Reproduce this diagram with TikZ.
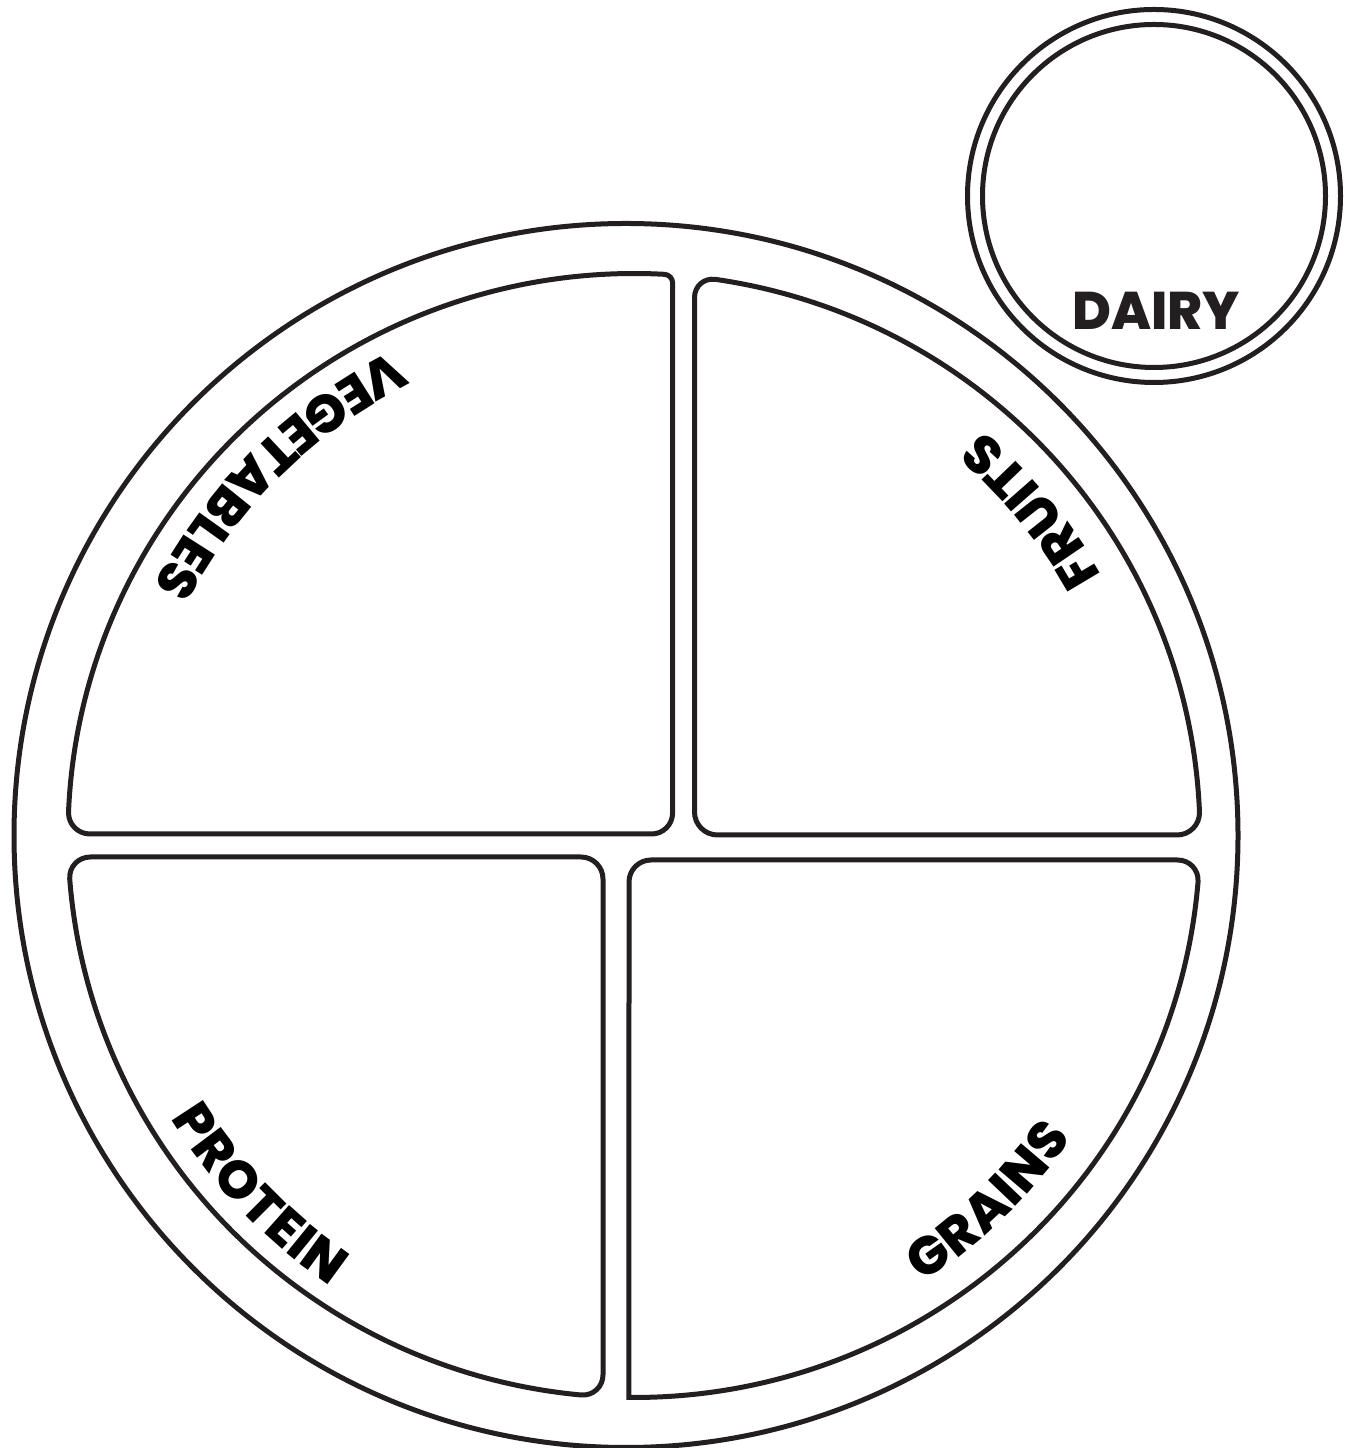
\documentclass[tikz,border=0pt]{standalone}
\usepackage{fontspec}
\newfontfamily\labfont{Poppins ExtraBold}
\newcommand\lblfont{\labfont\fontsize{53}{60}\selectfont}
\newcommand\lk{\kern0.8pt}
\usetikzlibrary{calc,decorations.text}
\definecolor{ink}{RGB}{35,31,32}
\begin{document}
\begin{tikzpicture}[x=1pt,y=1pt,line width=5pt,color=ink,
  section/.style={draw=ink,line width=5pt},
  rim/.style={draw=ink,line width=5pt},
  curvedlabel/.style={decorate,decoration={text along path,text align=center,text={|\lblfont|#1}}}]
\useasboundingbox (0,0) rectangle (1352,1448);
\coordinate (E) at (634,612.5);
\coordinate (O) at (626,612.5);
\coordinate (D) at (1154,1252);
% plate rim
\draw[rim] (O) circle[radius=612];
% dairy cup
\draw[rim] (D) circle[radius=186.5];
\draw[rim] (D) circle[radius=171.5];
\node[anchor=base,font=\lblfont,text=ink,inner sep=0pt] (dairy) at (1156,1118) {DAIRY};
% ---------- vegetables ----------
\coordinate (vA) at ($(E)+(177.62:566pt and 562pt)$);
\coordinate (vB) at ($(E)+(86.90:566pt and 562pt)$);
\coordinate (vI1) at (672.6,1173.2);
\coordinate (vI2) at (672.6,614);
\coordinate (vI3) at (68,614);
\draw[section] (672.6,1165.2) -- (672.6,635)
  .. controls ($(672.6,635)!0.552!(vI2)$) and ($(651.6,614)!0.552!(vI2)$) .. (651.6,614)
  -- (90,614)
  .. controls ($(90,614)!0.552!(vI3)$) and ($(vA)!0.552!(vI3)$) .. (vA)
  arc[start angle=177.62,end angle=86.90,x radius=566pt,y radius=562pt]
  .. controls ($(vB)!0.552!(vI1)$) and ($(672.6,1165.2)!0.552!(vI1)$) .. (672.6,1165.2)
  -- cycle;
% ---------- fruits ----------
\coordinate (fA) at ($(E)+(81.73:566pt and 562pt)$);
\coordinate (fB) at ($(E)+(2.38:566pt and 562pt)$);
\coordinate (fI1) at (694.5,1171.3);
\coordinate (fI2) at (694.5,613);
\coordinate (fI3) at (1200,613);
\draw[section] (694.5,1150.3) -- (694.5,636)
  .. controls ($(694.5,636)!0.552!(fI2)$) and ($(717.5,613)!0.552!(fI2)$) .. (717.5,613)
  -- (1177,613)
  .. controls ($(1177,613)!0.552!(fI3)$) and ($(fB)!0.552!(fI3)$) .. (fB)
  arc[start angle=2.38,end angle=81.73,x radius=566pt,y radius=562pt]
  .. controls ($(fA)!0.552!(fI1)$) and ($(694.5,1150.3)!0.552!(fI1)$) .. (694.5,1150.3)
  -- cycle;
% ---------- protein ----------
\coordinate (pA) at ($(E)+(264.63:566pt and 562pt)$);
\coordinate (pB) at ($(E)+(184.42:566pt and 562pt)$);
\coordinate (pI1) at (68.4,591);
\coordinate (pI2) at (603,591);
\coordinate (pI3) at (603,51.3);
\draw[section] (90.4,591) -- (581,591)
  .. controls ($(581,591)!0.552!(pI2)$) and ($(603,569)!0.552!(pI2)$) .. (603,569)
  -- (603,73.3)
  .. controls ($(603,73.3)!0.552!(pI3)$) and ($(pA)!0.552!(pI3)$) .. (pA)
  arc[start angle=264.63,end angle=184.42,x radius=566pt,y radius=562pt]
  .. controls ($(pB)!0.552!(pI1)$) and ($(90.4,591)!0.552!(pI1)$) .. (90.4,591)
  -- cycle;
% ---------- grains ----------
\coordinate (gA) at ($(E)+(269.49:566pt and 562pt)$);
\coordinate (gB) at ($(E)+(355.27:566pt and 562pt)$);
\coordinate (gI2) at (629,588);
\coordinate (gI3) at (1199.5,588);
\draw[section] (gA) -- (629,566)
  .. controls ($(629,566)!0.552!(gI2)$) and ($(651,588)!0.552!(gI2)$) .. (651,588)
  -- (1177.5,588)
  .. controls ($(1177.5,588)!0.552!(gI3)$) and ($(gB)!0.552!(gI3)$) .. (gB)
  arc[start angle=355.27,end angle=269.49,x radius=566pt,y radius=562pt]
  -- cycle;
% ---------- curved labels ----------
\path[curvedlabel={{V\lk}{E\lk}{G\lk}{E\lk}{T\lk}{A\lk}{B\lk}{L\lk}{E\lk}S}] (E) ++(94.5:541pt) arc[start angle=94.5,end angle=174.5,radius=541pt];
\path[curvedlabel={{F\lk}{R\lk}{U\lk}{I\lk}{T\lk}S}] (E) ++(-0.85:535pt) arc[start angle=-0.85,end angle=79.15,radius=535pt];
\path[curvedlabel={{P\lk}{R\lk}{O\lk}{T\lk}{E\lk}{I\lk}N}] (E) ++(183.7:543pt) arc[start angle=183.7,end angle=263.7,radius=543pt];
\path[curvedlabel={{G\lk}{R\lk}{A\lk}{I\lk}{N\lk}S}] (E) ++(274.1:532pt) arc[start angle=274.1,end angle=354.1,radius=532pt];
\end{tikzpicture}
\end{document}
